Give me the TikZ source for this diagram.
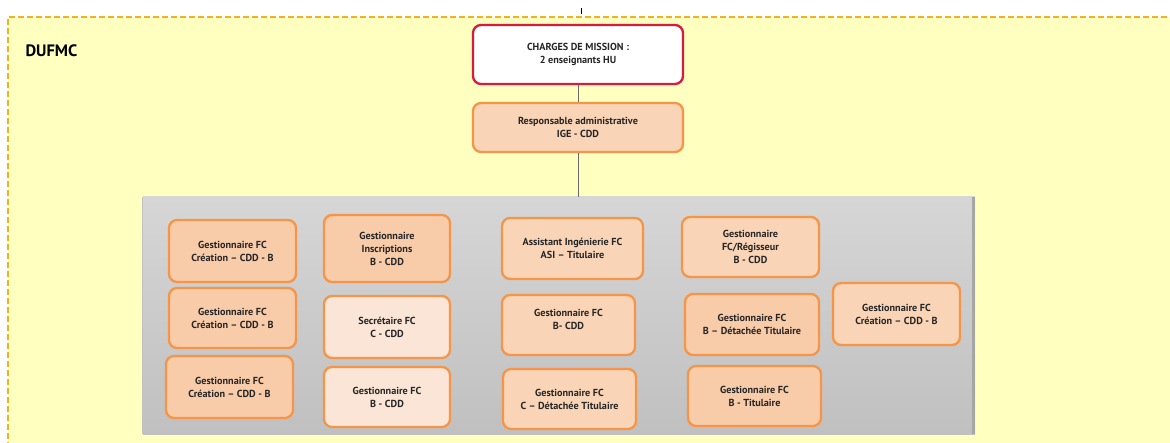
\documentclass[tikz,border=0pt]{standalone}
\usepackage{fontspec}
\setmainfont{PT Sans}
\definecolor{yel}{HTML}{FFFFC0}
\definecolor{yeldash}{HTML}{F0B222}
\definecolor{pantop}{HTML}{D6D6D6}
\definecolor{panbot}{HTML}{C0C0C0}
\definecolor{panedge}{HTML}{A6A6A6}
\definecolor{boxfill}{HTML}{F8CBA9}
\definecolor{boxfillB}{HTML}{FAD4B6}
\definecolor{boxlight}{HTML}{FBE5D6}
\definecolor{boxline}{HTML}{F5954A}
\definecolor{redline}{HTML}{D81B3C}
\definecolor{conn}{HTML}{6A6A6A}
\tikzset{
  x=1pt, y=-1pt,
  txt/.style={align=center, inner sep=0pt, font=\fontsize{10.2}{13}\selectfont\bfseries, text=black!85},
  base/.style={txt, rounded corners=8pt, line width=2.3pt},
  obox/.style={base, draw=boxline, fill=boxfill},
  obox2/.style={base, draw=boxline, fill=boxfillB},
  lbox/.style={base, draw=boxline, fill=boxlight},
  rbox/.style={base, draw=redline, fill=white},
  sz/.style n args={2}{minimum width=#1pt, minimum height=#2pt},
  link/.style={draw=conn, line width=0.9pt},
}
\begin{document}
\begin{tikzpicture}
\useasboundingbox (0,0) rectangle (1170,443);
% yellow area
\fill[yel] (8,17) rectangle (1175,448);
\draw[yeldash, line width=1.2pt, dash pattern=on 6pt off 3pt] (8,448) -- (8,17) -- (1175,17);
\node[anchor=west, font=\fontsize{16.5}{19}\selectfont\bfseries] (title) at (22,51) {DUFMC};
% tick above
\coordinate (tickA) at (581,8);
\coordinate (tickB) at (581,14);
\draw[black, line width=0.6pt] (tickA) -- (tickB);
% gray panel
\node[minimum width=832pt, minimum height=237pt, inner sep=0pt, top color=pantop, bottom color=panbot, draw=none] (panel) at (559,315.5) {};
\draw[panedge, line width=3pt] ([xshift=-1.5pt]panel.north east) -- ([xshift=-1.5pt]panel.south east);
\draw[panedge!70, line width=0.8pt] (panel.south west) -- (panel.north west);
% top nodes
\node[rbox, sz={210}{59}] (charges) at (578,54.5) {CHARGES DE MISSION :\\2 enseignants HU};
\node[obox2, sz={210}{49}] (resp) at (578,127.5) {Responsable administrative\\IGE - CDD};
\draw[link] (charges) -- (resp);
\draw[link] (resp) -- (resp.south |- panel.north);
% column 1
\node[obox, sz={127}{62}] (g1) at (232.5,251) {Gestionnaire FC\\Création – CDD - B};
\node[obox, sz={127}{60}] (g2) at (232.5,318) {Gestionnaire FC\\Création – CDD - B};
\node[obox, sz={127}{62}] (g3) at (229.5,387) {Gestionnaire FC\\Création – CDD - B};
% column 2
\node[obox, sz={126}{67}] (insc) at (387,248.5) {Gestionnaire\\Inscriptions\\B - CDD};
\node[lbox, sz={126}{62}] (secr) at (387,327) {Secrétaire FC\\C - CDD};
\node[lbox, sz={126}{60}] (gb) at (387,397) {Gestionnaire FC\\B - CDD};
% column 3
\node[obox2, sz={141}{61}] (asst) at (572.5,248.5) {Assistant Ingénierie FC\\ASI – Titulaire};
\node[obox2, sz={133}{60}] (bcdd) at (568.5,325) {};
\node[txt] (bcddt) at (568.5,319) {Gestionnaire FC\\B- CDD};
\node[obox2, sz={133}{60}] (cdet) at (569.5,399) {Gestionnaire FC\\C – Détachée Titulaire};
% column 4
\node[obox2, sz={137}{60}] (reg) at (750.5,247) {Gestionnaire\\FC/Régisseur\\B - CDD};
\node[obox, sz={134}{61}] (bdet) at (752,324.5) {Gestionnaire FC\\B – Détachée Titulaire};
\node[obox, sz={133}{60}] (btit) at (754.5,396) {Gestionnaire FC\\B - Titulaire};
% column 5
\node[obox2, sz={127}{62}] (creat) at (896.5,314) {Gestionnaire FC\\Création – CDD - B};
\end{tikzpicture}
\end{document}
